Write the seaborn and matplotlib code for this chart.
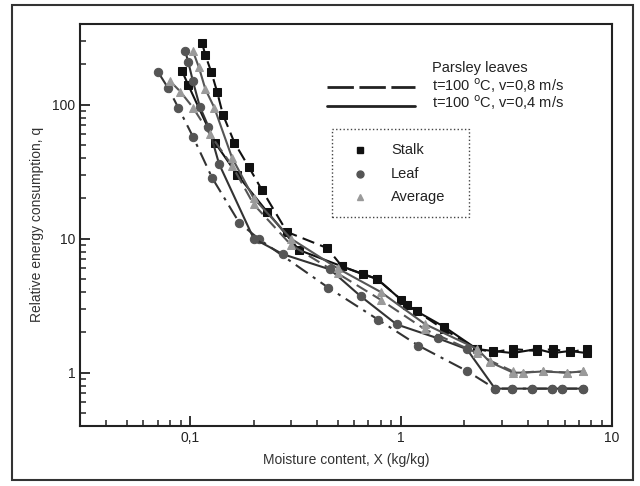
import numpy as np
import pandas as pd
import seaborn as sns
import matplotlib.pyplot as plt
from matplotlib.lines import Line2D
from matplotlib.patches import Rectangle
from matplotlib.ticker import LogLocator, FixedLocator, FixedFormatter, NullFormatter

# data (X in kg/kg, q relative)
stalk_fast_x = [0.114, 0.118, 0.126, 0.134, 0.143, 0.162, 0.190, 0.219, 0.288, 0.446, 0.525, 0.661, 0.77, 1.07, 1.19, 1.6, 2.3, 2.73, 3.39, 4.41, 5.25, 6.33, 7.6]
stalk_fast_q = [286, 233, 174, 125, 84, 52, 34, 23, 11.2, 8.5, 6.2, 5.4, 5.0, 3.2, 2.86, 2.1, 1.5, 1.42, 1.5, 1.45, 1.5, 1.42, 1.5]
stalk_slow_x = [0.0916, 0.098, 0.131, 0.167, 0.232, 0.329, 0.525, 0.77, 1.0, 1.07, 1.19, 1.6, 2.29, 2.73, 3.39, 4.41, 5.25, 6.33, 7.6]
stalk_slow_q = [177, 139, 52, 30, 15.8, 8.2, 6.2, 5.0, 3.5, 3.2, 2.86, 2.2, 1.5, 1.45, 1.4, 1.5, 1.4, 1.45, 1.4]

leaf_fast_x = [0.0705, 0.0787, 0.0877, 0.103, 0.127, 0.171, 0.213, 0.452, 0.78, 1.21, 2.05, 2.79, 3.36, 4.2, 5.2, 5.8, 7.3]
leaf_fast_q = [174, 132, 95, 57.6, 28.4, 13.1, 9.85, 4.3, 2.48, 1.59, 1.03, 0.76, 0.76, 0.76, 0.76, 0.76, 0.76]
leaf_slow_x = [0.0947, 0.098, 0.103, 0.111, 0.122, 0.137, 0.2, 0.275, 0.461, 0.644, 0.953, 1.5, 2.05, 2.79, 3.36, 4.2, 5.2, 5.8, 7.3]
leaf_slow_q = [250, 206, 149, 96.6, 68.4, 36.1, 10, 7.65, 5.88, 3.71, 2.29, 1.8, 1.5, 0.76, 0.76, 0.76, 0.76, 0.76, 0.76]

avg_fast_x = [0.0804, 0.0897, 0.103, 0.124, 0.158, 0.2, 0.3, 0.5, 0.8, 1.3, 2.3, 2.64, 3.4, 3.8, 4.7, 6.1, 7.3]
avg_fast_q = [149, 125, 95, 60, 35, 18, 9, 5.5, 3.5, 2.1, 1.4, 1.23, 1.02, 1.0, 1.03, 1.0, 1.02]
avg_slow_x = [0.103, 0.110, 0.118, 0.13, 0.158, 0.2, 0.3, 0.5, 0.8, 1.3, 2.3, 2.64, 3.4, 3.8, 4.7, 6.1, 7.3]
avg_slow_q = [250, 189, 130, 95, 40, 20, 10, 6, 4, 2.3, 1.5, 1.2, 1.0, 1.0, 1.02, 1.0, 1.02]

speed_labels = ["t=100 $^{\\mathrm{o}}$C, v=0,8 m/s", "t=100 $^{\\mathrm{o}}$C, v=0,4 m/s"]
sample_labels = ["Stalk", "Leaf", "Average"]

sns.set_style("ticks")
plt.rcParams["font.family"] = ["Liberation Sans", "DejaVu Sans"]

W, H = 640, 486
fig = plt.figure(figsize=(6.4, 4.86), dpi=100)
ax = fig.add_axes([0.125, 0.1235, 0.831, 0.8275])


def fx(px):
    return px / W


def fy(py):
    return 1 - py / H


DASH = (0, (6, 3))
DASHDOT = (0, (7, 3, 1.5, 3))
series = [
    (stalk_fast_x, stalk_fast_q, "s", "#111111", "#111111", DASH),
    (stalk_slow_x, stalk_slow_q, "s", "#111111", "#111111", "-"),
    (leaf_fast_x, leaf_fast_q, "o", "#555555", "#333333", DASHDOT),
    (leaf_slow_x, leaf_slow_q, "o", "#555555", "#333333", "-"),
    (avg_fast_x, avg_fast_q, "^", "#9a9a9a", "#555555", DASH),
    (avg_slow_x, avg_slow_q, "^", "#9a9a9a", "#555555", "-"),
]
for xs, qs, mk, mc, lc, ls in series:
    sns.lineplot(x=xs, y=qs, ax=ax, sort=False, estimator=None, color=lc,
                 linestyle=ls, linewidth=1.5, marker=mk, markersize=6,
                 markerfacecolor=mc, markeredgecolor=mc)

ax.set_xscale("log")
ax.set_yscale("log")
ax.set_xlim(0.03, 10)
ax.set_ylim(0.4, 400)

ax.xaxis.set_major_locator(FixedLocator([0.1, 1, 10]))
ax.xaxis.set_major_formatter(FixedFormatter(["0,1", "1", "10"]))
ax.xaxis.set_minor_locator(LogLocator(base=10, subs=np.arange(2, 10)))
ax.xaxis.set_minor_formatter(NullFormatter())
ax.yaxis.set_major_locator(FixedLocator([1, 10, 100]))
ax.yaxis.set_major_formatter(FixedFormatter(["1", "10", "100"]))
ax.yaxis.set_minor_locator(LogLocator(base=10, subs=np.arange(2, 10)))
ax.yaxis.set_minor_formatter(NullFormatter())
ax.tick_params(which="both", direction="in", top=False, right=False, colors="#222222", labelsize=10)
ax.tick_params(which="major", length=7, width=1.3)
ax.tick_params(which="minor", length=4, width=1.1)
for sp in ax.spines.values():
    sp.set_linewidth(1.5)
    sp.set_color("#222222")

ax.set_xlabel("Moisture content, X (kg/kg)", fontsize=10, color="#333333", labelpad=6)
ax.set_ylabel("Relative energy consumption, q", fontsize=10, color="#333333", labelpad=6)

# speed legend (line styles)
fig.text(fx(432), fy(68), "Parsley leaves", fontsize=10.5, color="#222222", va="center")
fig.add_artist(Line2D([fx(327), fx(415)], [fy(87), fy(87)], transform=fig.transFigure,
                      color="#222222", lw=2, linestyle=(0, (9.5, 2))))
fig.add_artist(Line2D([fx(327), fx(415)], [fy(106), fy(106)], transform=fig.transFigure,
                      color="#222222", lw=2, linestyle="-"))
fig.text(fx(432), fy(86), speed_labels[0], fontsize=10.5, color="#222222", va="center")
fig.text(fx(432), fy(103), speed_labels[1], fontsize=10.5, color="#222222", va="center")

# sample legend (markers) in a dotted box
fig.patches.append(Rectangle((fx(332), fy(217)), (469 - 332) / W, (217 - 129) / H,
                             transform=fig.transFigure, fill=False, edgecolor="#444444",
                             linewidth=1.0, linestyle=":"))
for lab, mk, mc, py in zip(sample_labels, ["s", "o", "^"], ["#111111", "#555555", "#9a9a9a"],
                           [150, 174, 197]):
    fig.add_artist(Line2D([fx(360)], [fy(py)], transform=fig.transFigure, marker=mk,
                          markersize=5, color=mc, linestyle="none"))
    fig.text(fx(391), fy(py), lab, fontsize=10.5, color="#222222", va="center")

# outer border of the figure
fig.patches.append(Rectangle((12 / W, 6 / H), 621 / W, 475 / H, transform=fig.transFigure,
                             fill=False, edgecolor="#333333", linewidth=1.5))

fig.savefig("out.png", dpi=100)
